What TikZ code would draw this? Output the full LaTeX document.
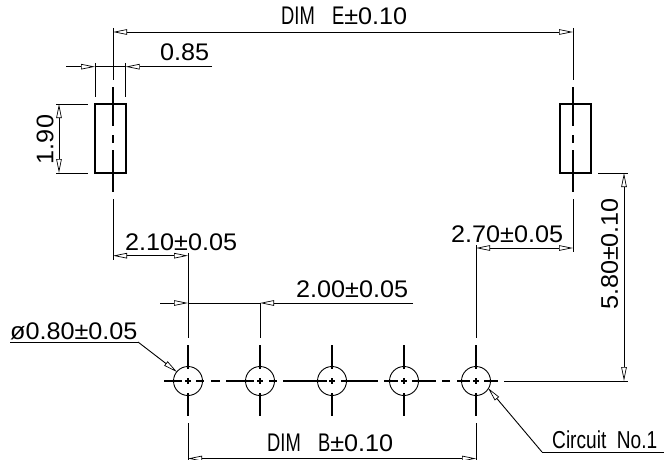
\documentclass[tikz,border=0pt]{standalone}
\usepackage{graphicx}
\usepackage{fontspec}
\setmainfont[FakeStretch=1.05]{Liberation Sans}
\newfontfamily\plainfont{Liberation Sans}
\usetikzlibrary{arrows.meta}
\tikzset{thinline/.style={line width=0.9pt,draw=black}}
\tikzset{thickline/.style={line width=1.9pt,draw=black}}
\tikzset{dimline/.style={line width=0.9pt,draw=black,-{Triangle[open,length=14pt,width=5.5pt,line width=0.7pt]}}}
\tikzset{dimboth/.style={line width=0.9pt,draw=black,{Triangle[open,length=14pt,width=5.5pt,line width=0.7pt]}-{Triangle[open,length=14pt,width=5.5pt,line width=0.7pt]}}}
\tikzset{dimtext/.style={inner sep=0pt,anchor=base west,font=\fontsize{24}{26}\selectfont}}
\tikzset{dimtextv/.style={inner sep=0pt,rotate=90,font=\fontsize{24}{26}\selectfont}}
\tikzset{padbox/.style={rectangle,draw=black,line width=1.5pt,fill=none,inner sep=0pt,minimum width=31pt,minimum height=69pt}}
\tikzset{holecirc/.style={circle,draw=black,line width=0.9pt,fill=none,inner sep=0pt,minimum size=29pt}}
\newcommand{\dimletters}[1]{\scalebox{0.72}[1]{\fontsize{25.5}{27}\selectfont\plainfont\selectfont #1}}

\begin{document}
\begin{tikzpicture}[x=1pt,y=-1pt]
    \useasboundingbox (0,0) rectangle (664,460);

    % terminal pads
    \node[padbox] (padL) at (110.5,138.5) {};
    \node[padbox] (padR) at (575.5,138.5) {};

    % pad centre lines
    \foreach \px/\pend in {113/260,573/252} {
        \draw[thinline] (\px,28) -- (\px,80);
        \draw[thickline] (\px,87) -- (\px,126);
        \draw[thickline] (\px,135) -- (\px,143);
        \draw[thickline] (\px,150) -- (\px,192);
        \draw[thinline] (\px,199) -- (\px,\pend);
    }

    % holes
    \foreach \hn/\hx/\htop in {1/188/253,2/260/303,3/332/0,4/404/0,5/476/245} {
        \node[holecirc] (hole\hn) at (\hx,381) {};
        \ifnum\htop>0
            \draw[thinline] (\hx,\htop) -- (\hx,338);
        \fi
        \draw[thickline] (\hx,345) -- (\hx,369);
        \draw[thickline] (\hx,378) -- (\hx,384);
        \draw[thickline] (\hx,393) -- (\hx,416);
        \draw[thickline] (\hx-3,381) -- (\hx+3,381);
    }
    \foreach \hx in {188,476} {
        \draw[thinline] (\hx,423) -- (\hx,461);
    }

    % row centre line
    \foreach \xa/\xb in {164/182,196/204,211/220,226/254,269/277,283/327,341/378,384/398,412/436,442/450,457/470,484/498} {
        \draw[thickline] (\xa,381) -- (\xb,381);
    }

    % DIM E
    \coordinate (dimEl) at (113,32);
    \coordinate (dimEr) at (573,32);
    \draw[dimboth] (dimEl) -- (dimEr);
    \node[dimtext] (dimEtext) at (281,25) {\dimletters{DIM\hspace{24pt}E}±0.10};

    % 0.85
    \coordinate (padLwl) at (66,66.7);
    \coordinate (padLwr) at (95,66.7);
    \coordinate (padLer) at (212,66.7);
    \coordinate (padLel) at (125.7,66.7);
    \draw[dimline] (padLwl) -- (padLwr);
    \draw[dimline] (padLer) -- (padLel);
    \draw[thinline] (padLwr) -- (padLel);
    \draw[thinline] (95,63) -- (95,97);
    \draw[thinline] (125.7,63) -- (125.7,97);
    \node[dimtext] (wtext) at (160,60.5) {0.85};

    % 1.90
    \coordinate (padLt) at (59,104);
    \coordinate (padLb) at (59,173);
    \draw[dimboth] (padLt) -- (padLb);
    \draw[thinline] (56,104) -- (88,104);
    \draw[thinline] (56,173) -- (88,173);
    \node[dimtextv] (htext) at (45,139.5) {1.90};

    % 2.10
    \coordinate (offLl) at (113,255.7);
    \coordinate (offLr) at (188,255.7);
    \draw[dimboth] (offLl) -- (offLr);
    \node[dimtext] (offLtext) at (125,250) {2.10±0.05};

    % 2.00
    \coordinate (pitchA) at (160,303);
    \coordinate (pitchB) at (188,303);
    \coordinate (pitchC) at (413,303);
    \coordinate (pitchD) at (260,303);
    \draw[dimline] (pitchA) -- (pitchB);
    \draw[dimline] (pitchC) -- (pitchD);
    \draw[thinline] (pitchB) -- (pitchD);
    \node[dimtext] (pitchtext) at (296,297) {2.00±0.05};

    % 2.70
    \coordinate (offRl) at (476,248);
    \coordinate (offRr) at (573,248);
    \draw[dimboth] (offRl) -- (offRr);
    \node[dimtext] (offRtext) at (451,242) {2.70±0.05};

    % 5.80
    \coordinate (rowt) at (624,173);
    \coordinate (rowb) at (624,381);
    \draw[dimboth] (rowt) -- (rowb);
    \draw[thinline] (598,173) -- (628,173);
    \draw[thinline] (504,381) -- (628,381);
    \node[dimtextv] (rowtext) at (609.5,254) {5.80±0.10};

    % hole size
    \coordinate (dialeft) at (10,342);
    \coordinate (diaknee) at (138,342);
    \coordinate (diatip) at (177,372);
    \draw[thinline] (dialeft) -- (diaknee);
    \draw[dimline] (diaknee) -- (diatip);
    \node[dimtext] (diatext) at (10,339) {ø0.80±0.05};

    % DIM B
    \coordinate (dimBl) at (188,458.5);
    \coordinate (dimBr) at (476,458.5);
    \draw[dimboth] (dimBl) -- (dimBr);
    \node[dimtext] (dimBtext) at (267,451) {\dimletters{DIM\hspace{24pt}B}±0.10};

    % first circuit
    \coordinate (cirright) at (664,452);
    \coordinate (cirknee) at (542,452);
    \coordinate (cirtip) at (488,388);
    \draw[thinline] (cirright) -- (cirknee);
    \draw[dimline] (cirknee) -- (cirtip);
    \node[dimtext] (cirtext) at (552,448) {\scalebox{0.78}[1]{\fontsize{24.5}{26}\selectfont\plainfont\selectfont Circuit\ \ No.1}};
\end{tikzpicture}
\end{document}
